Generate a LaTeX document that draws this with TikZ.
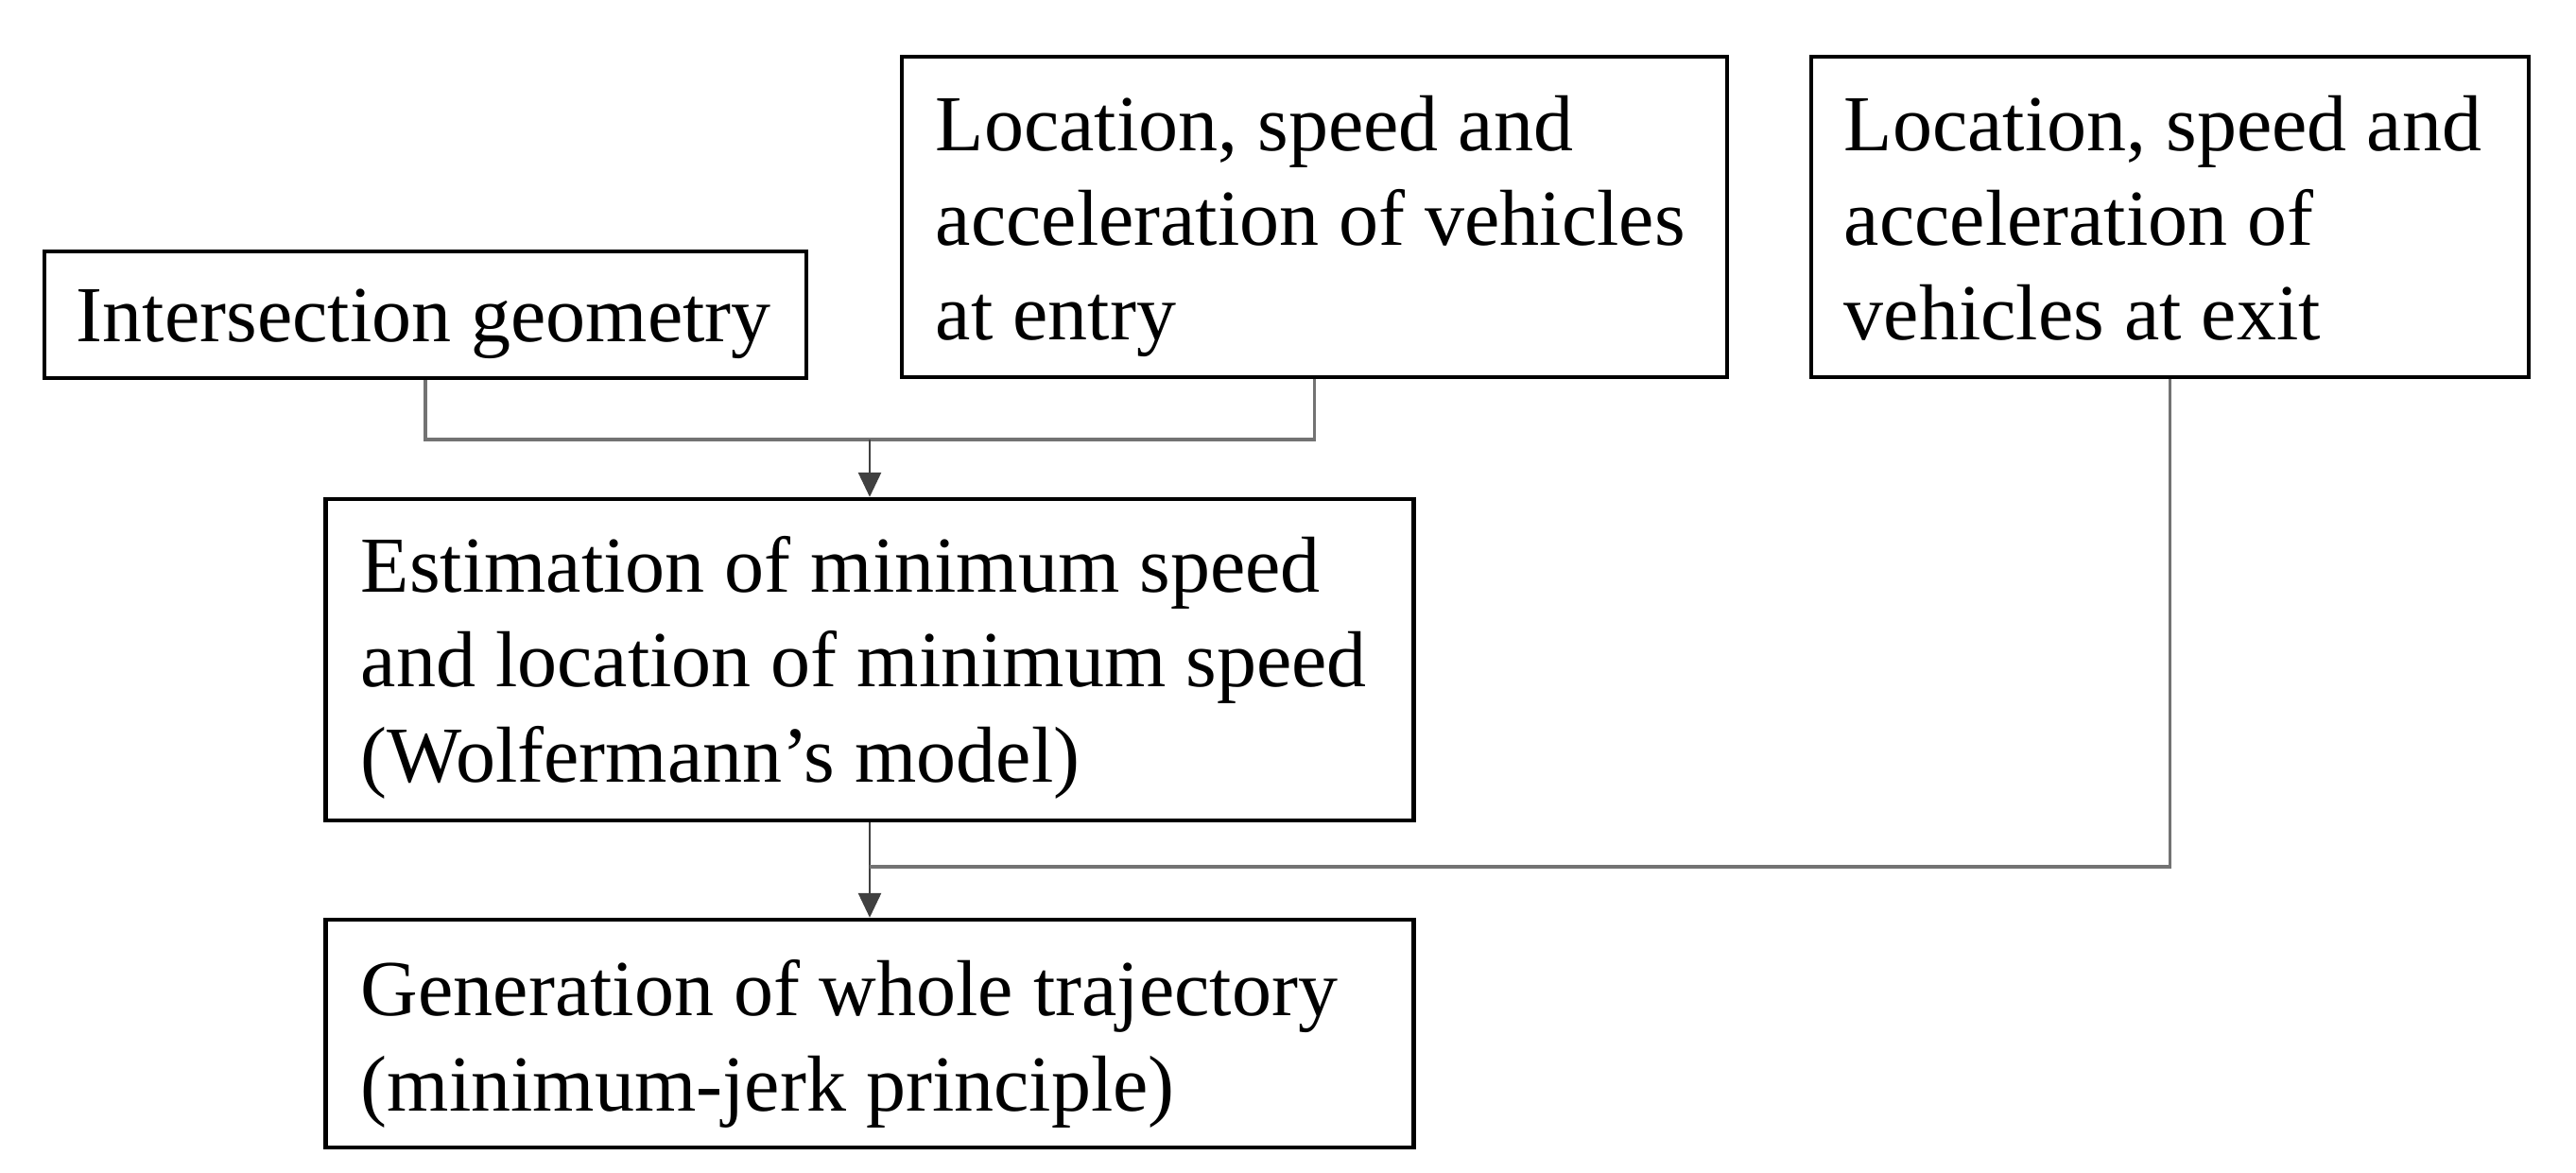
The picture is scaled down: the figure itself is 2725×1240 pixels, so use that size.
\documentclass[tikz,border=0pt]{standalone}
\usepackage{fontspec}
\setmainfont{Liberation Serif}
\usetikzlibrary{arrows.meta}
\begin{document}
\begin{tikzpicture}[x=0.25pt,y=-0.25pt,
  box/.style={draw=black,line width=1.1pt,inner sep=0pt,rectangle},
  txt/.style={inner sep=0pt,anchor=base west,align=left,font=\fontsize{21}{25.1}\selectfont},
  link/.style={draw=black!55,line width=0.9pt},
  arr/.style={draw=black!75,line width=0.7pt,-{Triangle[length=6.5pt,width=6pt]}}]
\useasboundingbox[fill=white] (0,0) rectangle (2725,1240);
% boxes
\node[box,minimum width=201.5pt,minimum height=33.5pt] (geo) at (450,333) {};
\node[box,minimum width=218.25pt,minimum height=84.75pt] (entry) at (1390.5,229.5) {};
\node[box,minimum width=189.75pt,minimum height=84.75pt] (exit) at (2295.5,229.5) {};
\node[box,minimum width=287.75pt,minimum height=85pt] (est) at (920,698) {};
\node[box,minimum width=287.75pt,minimum height=60.25pt] (gen) at (920,1093.5) {};
% texts (anchored at the baseline of their last line)
\node[txt] (geot) at (80,362) {Intersection geometry};
\node[txt] (entryt) at (989,360) {Location, speed and\\acceleration of vehicles\\at entry};
\node[txt] (exitt) at (1950,360) {Location, speed and\\acceleration of\\vehicles at exit};
\node[txt] (estt) at (381,827) {Estimation of minimum speed\\and location of minimum speed\\(Wolfermann’s model)};
\node[txt] (gent) at (381,1175) {Generation of whole trajectory\\(minimum-jerk principle)};
% connectors
\coordinate (j1) at (920,465);
\coordinate (j2) at (920,917);
\draw[link] (geo.south) |- (j1) -| (entry.south);
\draw[arr] (j1) -- (est.north);
\draw[arr] (est.south) -- (gen.north);
\draw[link] (j2) -| (exit.south);
\end{tikzpicture}
\end{document}
